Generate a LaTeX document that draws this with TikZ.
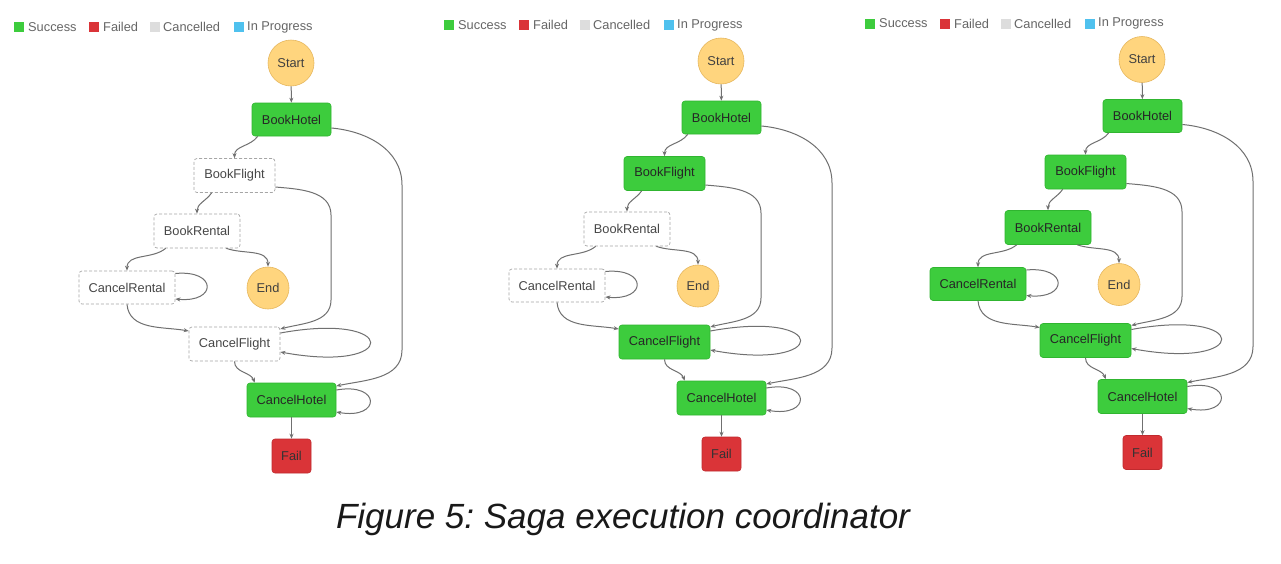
\documentclass[tikz,border=0pt]{standalone}
\usepackage{fontspec}
\setmainfont{Liberation Sans}
\usetikzlibrary{arrows.meta}
\frenchspacing
\definecolor{okgreen}{HTML}{3DCC3D}
\definecolor{okborder}{HTML}{30B530}
\definecolor{failred}{HTML}{DA3438}
\definecolor{failborder}{HTML}{C02A2E}
\definecolor{termfill}{HTML}{FFD57E}
\definecolor{termborder}{HTML}{E6B75E}
\definecolor{cancelgray}{HTML}{DDDDDD}
\definecolor{progblue}{HTML}{4FC1EE}
\definecolor{edgegray}{HTML}{707070}
\definecolor{legendtext}{HTML}{666666}
\tikzset{
  every node/.style={font=\fontsize{12.8}{14}\selectfont},
  sagabox/.style={rectangle, rounded corners=3pt, inner sep=0pt, minimum height=34pt},
  success/.style={sagabox, fill=okgreen, draw=okborder, line width=0.6pt, text=black!85},
  cancelled/.style={sagabox, fill=white, draw=gray!70, dash pattern=on 3pt off 2pt, line width=0.7pt, text=black!72},
  failed/.style={sagabox, fill=failred, draw=failborder, line width=0.6pt, text=black!80},
  term/.style={circle, fill=termfill, draw=termborder, line width=0.6pt, inner sep=0pt, text=black!75},
  flow/.style={draw=edgegray, line width=1pt, -{Stealth[length=5pt,width=4pt]}},
  legsq/.style={rectangle, minimum size=10pt, inner sep=0pt},
  legtext/.style={anchor=west, text=legendtext, inner sep=0pt},
}
\newcommand\sagapanel[7]{%
\begin{scope}[shift={(#1,#2)}]
  % legend
  \node[legsq, fill=okgreen] (#3-lg1) at (19,27) {};
  \node[legtext] (#3-lt1) at (28,27) {Success};
  \node[legsq, fill=failred] (#3-lg2) at (94,27) {};
  \node[legtext] (#3-lt2) at (103,27) {Failed};
  \node[legsq, fill=cancelgray] (#3-lg3) at (155,27) {};
  \node[legtext] (#3-lt3) at (163,27) {Cancelled};
  \node[legsq, fill=progblue] (#3-lg4) at (239,27) {};
  \node[legtext] (#3-lt4) at (247,27) {In Progress};
  % states
  \node[term, minimum size=46pt] (#3-start) at (291,63) {Start};
  \node[success, minimum width=79pt, minimum height=33pt] (#3-bh) at (291.5,119.5) {BookHotel};
  \node[#4, minimum width=81pt] (#3-bf) at (234.5,175.5) {BookFlight};
  \node[#5, minimum width=86pt] (#3-br) at (197,231) {BookRental};
  \node[#6, minimum width=96pt, minimum height=33pt] (#3-cr) at (127,287.5) {CancelRental};
  \node[term, minimum size=42pt] (#3-end) at (268,288) {End};
  \node[#7, minimum width=91pt] (#3-cf) at (234.5,344) {CancelFlight};
  \node[success, minimum width=89pt] (#3-ch) at (291.5,400) {CancelHotel};
  \node[failed, minimum width=39pt] (#3-fail) at (291.5,456) {Fail};
  \coordinate (#3-r1) at (402,185);
  \coordinate (#3-r2) at (402,350);
  \coordinate (#3-m1) at (331,215);
  \coordinate (#3-m2) at (331,300);
  % transitions
  \draw[flow] (#3-start) -- (#3-bh);
  \draw[flow] ([xshift=6pt]#3-bh.south west) to[out=-125,in=90] (#3-bf.north);
  \draw[flow] ([yshift=-8.5pt]#3-bh.east) to[out=-5,in=90] (#3-r1) -- (#3-r2) to[out=-90,in=12] ([yshift=14pt]#3-ch.east);
  \draw[flow] ([xshift=18pt]#3-bf.south west) to[out=-125,in=90] (#3-br.north);
  \draw[flow] ([yshift=-11.5pt]#3-bf.east) to[out=-5,in=90] (#3-m1) -- (#3-m2) to[out=-90,in=15] ([yshift=15pt]#3-cf.east);
  \draw[flow] ([xshift=12pt]#3-br.south west) to[out=-140,in=90] (#3-cr.north);
  \draw[flow] ([xshift=-14pt]#3-br.south east) to[out=-20,in=90] (#3-end.north);
  \draw[flow] ([yshift=14pt]#3-cr.east) .. controls +(42pt,4pt) and +(42pt,-4pt) .. ([yshift=-11.5pt]#3-cr.east);
  \draw[flow] (#3-cr.south) to[out=-85,in=170] ([yshift=13pt]#3-cf.west);
  \draw[flow] ([yshift=11pt]#3-cf.east) .. controls +(120pt,22pt) and +(120pt,-22pt) .. ([yshift=-8pt]#3-cf.east);
  \draw[flow] (#3-cf.south) to[out=-90,in=110] ([xshift=8pt]#3-ch.north west);
  \draw[flow] ([yshift=10pt]#3-ch.east) .. controls +(45pt,8pt) and +(45pt,-8pt) .. ([yshift=-12pt]#3-ch.east);
  \draw[flow] (#3-ch) -- (#3-fail);
\end{scope}}
\begin{document}
\begin{tikzpicture}[x=1pt,y=-1pt]
  \useasboundingbox (0,0) rectangle (1281,563);
  \fill[white] (0,0) rectangle (1281,563);
  \sagapanel{0}{0}{a}{cancelled}{cancelled}{cancelled}{cancelled}
  \sagapanel{430}{-2}{b}{success}{cancelled}{cancelled}{success}
  \sagapanel{851}{-3.5}{c}{success}{success}{success}{success}
  \node[font=\fontsize{35}{40}\selectfont\itshape, text=black!90, inner sep=0pt] (caption) at (623,519) {Figure 5: Saga execution coordinator};
\end{tikzpicture}
\end{document}
